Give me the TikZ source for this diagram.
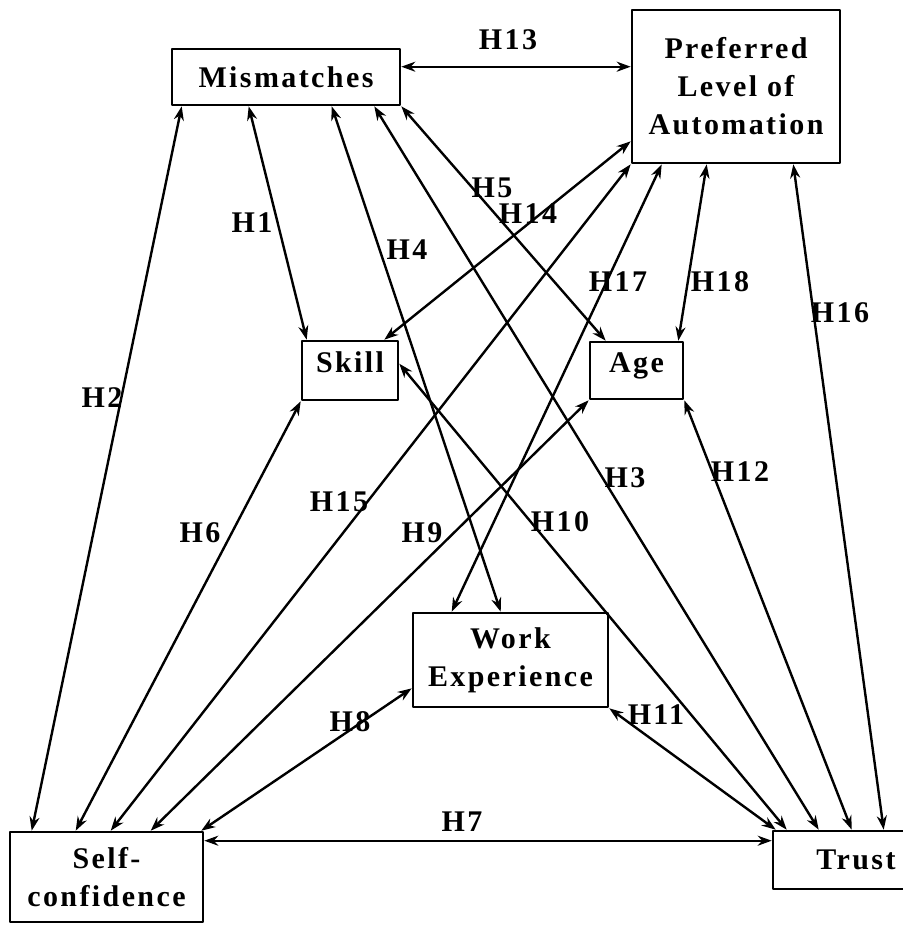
\documentclass[tikz,border=0pt]{standalone}
\usepackage{fontspec}
\setmainfont{Liberation Serif}[LetterSpace=8]
\usetikzlibrary{arrows.meta,calc}
\begin{document}
\begin{tikzpicture}[x=0.5pt, y=-0.5pt, font=\fontsize{15}{19}\selectfont\bfseries, line join=round, line cap=round, >={Stealth[length=7pt,width=5pt]},
	box/.style={draw, line width=1.3pt, align=center, inner sep=0pt},
	hyp/.style={inner sep=1pt},
	link/.style={<->, line width=1.2pt}]
	\useasboundingbox (0,0) rectangle (902,927);
	\node[box, minimum width=114pt, minimum height=28pt] (mis) at (286,77) {Mismatches};
	\node[box, minimum width=104pt, minimum height=76.5pt] (pla) at (736,86.5) {Preferred\\Level of\\Automation};
	\node[box, minimum width=48pt, minimum height=29.5pt, text height=10pt, text depth=8pt] (sk) at (350,370.5) {Skill};
	\node[box, minimum width=46.5pt, minimum height=28.5pt, text height=10pt, text depth=8pt] (age) at (636.5,370.5) {Age};
	\node[box, minimum width=97.5pt, minimum height=47pt] (we) at (510.5,660) {Work\\Experience};
	\node[box, minimum width=96.5pt, minimum height=45pt] (sc) at (106.5,877) {Self-\\confidence};
	\node[box, minimum width=83pt, minimum height=29pt] (tru) at (856,860) {Trust};
	% hypotheses
	\draw[link] ($(mis.north east)+(0,19)$) -- ($(pla.north west)+(0,58)$);
	\draw[link] ($(mis.south west)+(11,0)$) -- ($(sc.north west)+(23,0)$);
	\draw[link] ($(mis.south west)+(78,0)$) -- ($(sk.north west)+(6,0)$);
	\draw[link] ($(mis.south west)+(161,0)$) -- ($(we.north west)+(89,0)$);
	\draw[link] ($(mis.south east)+(-27,0)$) -- ($(tru.north west)+(47,0)$);
	\draw[link] (mis.south east) -- ($(age.north west)+(17,0)$);
	\draw[link] ($(pla.south west)+(0,-23)$) -- ($(sk.north east)+(-15,0)$);
	\draw[link] (pla.south west) -- ($(sc.north west)+(102,0)$);
	\draw[link] ($(pla.south west)+(31,0)$) -- ($(we.north west)+(40,0)$);
	\draw[link] ($(pla.south west)+(76,0)$) -- ($(age.north east)+(-6,0)$);
	\draw[link] ($(pla.south east)+(-48,0)$) -- ($(tru.north west)+(112,0)$);
	\draw[link] (sk.south west) -- ($(sc.north west)+(67,0)$);
	\draw[link] ($(sk.north east)+(0,24)$) -- ($(tru.north west)+(15,0)$);
	\draw[link] (age.south west) -- ($(sc.north west)+(142,0)$);
	\draw[link] (age.south east) -- ($(tru.north west)+(80,0)$);
	\draw[link] (we.south east) -- ($(tru.north west)+(4,0)$);
	\draw[link] ($(we.south west)+(0,-20)$) -- ($(sc.north east)+(-3,0)$);
	\draw[link] ($(sc.north east)+(0,10)$) -- ($(tru.north west)+(0,11)$);
	\node[hyp] (h13) at (508,40) {H13};
	\node[hyp] (h2) at (102,398) {H2};
	\node[hyp] (h1) at (252,223) {H1};
	\node[hyp] (h4) at (407,250) {H4};
	\node[hyp] (h5) at (492,188) {H5};
	\node[hyp] (h14) at (528,214) {H14};
	\node[hyp] (h17) at (618,282) {H17};
	\node[hyp] (h18) at (720,282) {H18};
	\node[hyp] (h16) at (840,313) {H16};
	\node[hyp] (h6) at (200,533) {H6};
	\node[hyp] (h15) at (339,502) {H15};
	\node[hyp] (h9) at (422,533) {H9};
	\node[hyp] (h10) at (560,522) {H10};
	\node[hyp] (h3) at (625,478) {H3};
	\node[hyp] (h12) at (740,472) {H12};
	\node[hyp] (h11) at (656,715) {H11};
	\node[hyp] (h8) at (350,722) {H8};
	\node[hyp] (h7) at (462,822) {H7};
\end{tikzpicture}
\end{document}
